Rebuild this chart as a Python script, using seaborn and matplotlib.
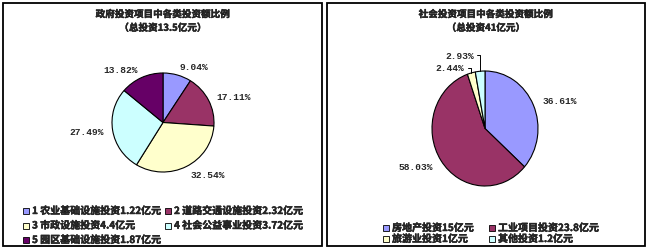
import matplotlib
matplotlib.use("Agg")
import matplotlib.pyplot as plt
import matplotlib.patheffects as pe
from matplotlib.patches import Rectangle
import numpy as np
import seaborn as sns

# Government investment breakdown (total 13.5 亿元)
gov_title = "政府投资项目中各类投资额比例\n（总投资13.5亿元）"
gov_items = ["1 农业基础设施投资1.22亿元", "2 道路交通设施投资2.32亿元",
             "3 市政设施投资4.4亿元", "4 社会公益事业投资3.72亿元",
             "5 园区基础设施投资1.87亿元"]
gov_pct = [9.04, 17.11, 32.54, 27.49, 13.82]
gov_colors = ["#9999FF", "#993366", "#FFFFCC", "#CCFFFF", "#660066"]

# Social investment breakdown (total 41 亿元)
soc_title = "社会投资项目中各类投资额比例\n（总投资41亿元）"
soc_items = ["房地产投资15亿元", "工业项目投资23.8亿元", "旅游业投资1亿元", "其他投资1.2亿元"]
soc_pct = [36.61, 58.03, 2.44, 2.93]
soc_colors = ["#9999FF", "#993366", "#FFFFCC", "#CCFFFF"]

sns.set_theme(style="white")
plt.rcParams["font.family"] = ["Noto Sans CJK SC", "DejaVu Sans"]

W, H = 648, 251
fig = plt.figure(figsize=(W / 100, H / 100), dpi=100)
fig.patch.set_facecolor("white")

# a thin outline so the CJK text reads as bold
heavy = [pe.withStroke(linewidth=0.3, foreground="black")]


def fx(px):
    return px / W


def fy(py):
    return 1 - py / H


def panel(x0, y0, x1, y1):
    fig.add_artist(Rectangle((fx(x0), fy(y1)), fx(x1) - fx(x0), fy(y0) - fy(y1),
                             transform=fig.transFigure, fill=False,
                             edgecolor="black", linewidth=1.3))


def pie_axes(x0, y0, x1, y1):
    return fig.add_axes([fx(x0), fy(y1), fx(x1) - fx(x0), fy(y0) - fy(y1)])


pct_font = dict(family=["Liberation Mono"], fontsize=6.8, fontweight="bold")
txt_font = dict(fontsize=7.2, fontweight="bold", path_effects=heavy)
title_font = dict(fontsize=6.9, fontweight="bold", path_effects=heavy)


def draw_pie(ax, pct, colors, small=()):
    wedges, _ = ax.pie(pct, colors=colors, startangle=90, counterclock=False,
                       radius=1, wedgeprops=dict(edgecolor="black", linewidth=0.8))
    ax.set_aspect("auto")
    ax.set_xlim(-1, 1)
    ax.set_ylim(-1, 1)
    ax.axis("off")
    for i, w in enumerate(wedges):
        mid = np.deg2rad((w.theta1 + w.theta2) / 2)
        c, s = np.cos(mid), np.sin(mid)
        label = f"{pct[i]:.2f}%"
        if i in small:
            ax.annotate(label, xy=(c, s), xytext=small[i], textcoords="offset points",
                        ha="right", va="center", annotation_clip=False,
                        arrowprops=dict(arrowstyle="-", color="black", lw=0.7,
                                        shrinkA=0, shrinkB=0,
                                        connectionstyle="angle,angleA=0,angleB=90,rad=0"),
                        **pct_font)
        else:
            r = 1.18
            ax.text(r * c, r * s, label, ha="left" if c >= 0 else "right",
                    va="center", clip_on=False, **pct_font)
    return wedges


def legend_entry(x, y, color, text):
    fig.add_artist(Rectangle((fx(x - 3), fy(y + 3)), fx(6), 6 / H,
                             transform=fig.transFigure, facecolor=color,
                             edgecolor="black", linewidth=0.6))
    fig.text(fx(x + 6), fy(y), text, ha="left", va="center", **txt_font)


# left panel
panel(3, 4, 322, 247)
fig.text(fx(163), fy(22), gov_title, ha="center", va="center",
         linespacing=1.45, **title_font)
ax1 = pie_axes(112, 74, 214, 173)
draw_pie(ax1, gov_pct, gov_colors)
gov_pos = [(26, 212), (168, 212), (26, 226.5), (168, 226.5), (26, 241)]
for (x, y), col, t in zip(gov_pos, gov_colors, gov_items):
    legend_entry(x, y, col, t)

# right panel
panel(327, 4, 645, 247)
fig.text(fx(486), fy(22), soc_title, ha="center", va="center",
         linespacing=1.45, **title_font)
ax2 = pie_axes(432, 72, 538, 187)
draw_pie(ax2, soc_pct, soc_colors, small={2: (-5, 3.8), 3: (-4.5, 11.5)})
soc_pos = [(386, 229), (492, 229), (386, 240), (492, 240)]
for (x, y), col, t in zip(soc_pos, soc_colors, soc_items):
    legend_entry(x, y, col, t)

fig.savefig("out.png", dpi=100, facecolor="white")
